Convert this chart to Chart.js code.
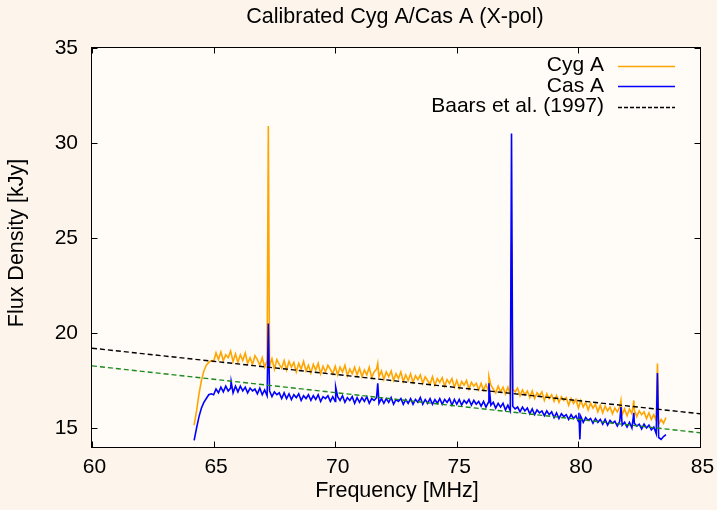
<!DOCTYPE html>
<html>
<head>
<meta charset="utf-8">
<script src="https://cdn.jsdelivr.net/npm/chart.js@4.4.1/dist/chart.umd.min.js"></script>
<style>
  html, body { margin: 0; padding: 0; background: #fdf5eb; }
  canvas { display: block; }
</style>
</head>
<body>
<canvas id="c" width="717" height="510"></canvas>
<script>
// ---------------- DATA ----------------
const chartTitle = "Calibrated Cyg A/Cas A (X-pol)";
const xTitle = "Frequency [MHz]";
const yTitle = "Flux Density [kJy]";
const xTicks = [60, 65, 70, 75, 80, 85];
const yTicks = [15, 20, 25, 30, 35];

const freq = [
  64.2, 64.3, 64.4, 64.5, 64.6, 64.7, 64.8, 64.9,
  65.0, 65.1, 65.2, 65.3, 65.4, 65.5, 65.6, 65.7, 65.8, 65.9,
  66.0, 66.1, 66.2, 66.3, 66.4, 66.5, 66.6, 66.7, 66.8, 66.9,
  67.0, 67.1, 67.2, 67.3, 67.4, 67.5, 67.6, 67.7, 67.8, 67.9,
  68.0, 68.1, 68.2, 68.3, 68.4, 68.5, 68.6, 68.7, 68.8, 68.9,
  69.0, 69.1, 69.2, 69.3, 69.4, 69.5, 69.6, 69.7, 69.8, 69.9,
  70.0, 70.1, 70.2, 70.3, 70.4, 70.5, 70.6, 70.7, 70.8, 70.9,
  71.0, 71.1, 71.2, 71.3, 71.4, 71.5, 71.6, 71.7, 71.8, 71.9,
  72.0, 72.1, 72.2, 72.3, 72.4, 72.5, 72.6, 72.7, 72.8, 72.9,
  73.0, 73.1, 73.2, 73.3, 73.4, 73.5, 73.6, 73.7, 73.8, 73.9,
  74.0, 74.1, 74.2, 74.3, 74.4, 74.5, 74.6, 74.7, 74.8, 74.9,
  75.0, 75.1, 75.2, 75.3, 75.4, 75.5, 75.6, 75.7, 75.8, 75.9,
  76.0, 76.1, 76.2, 76.3, 76.4, 76.5, 76.6, 76.7, 76.8, 76.9,
  77.0, 77.1, 77.2, 77.3, 77.4, 77.5, 77.6, 77.7, 77.8, 77.9,
  78.0, 78.1, 78.2, 78.3, 78.4, 78.5, 78.6, 78.7, 78.8, 78.9,
  79.0, 79.1, 79.2, 79.3, 79.4, 79.5, 79.6, 79.7, 79.8, 79.9,
  80.0, 80.1, 80.2, 80.3, 80.4, 80.5, 80.6, 80.7, 80.8, 80.9,
  81.0, 81.1, 81.2, 81.3, 81.4, 81.5, 81.6, 81.7, 81.8, 81.9,
  82.0, 82.1, 82.2, 82.3, 82.4, 82.5, 82.6, 82.7, 82.8, 82.9,
  83.0, 83.1, 83.2, 83.3, 83.4, 83.5, 83.6
];

const cygA = [
  15.15, 15.9, 16.8, 17.5, 18.0, 18.3, 18.45, 18.55,
  18.5, 18.95, 18.6, 19.0, 18.55, 18.85, 18.7, 19.05, 18.5, 18.9,
  18.45, 18.85, 18.55, 18.95, 18.4, 18.7, 18.35, 18.8, 18.6, 18.3,
  18.7, 18.2, 18.55, 18.25, 18.65, 18.1, 18.6, 18.35, 18.15, 18.55,
  18.05, 18.5, 18.2, 18.45, 17.95, 18.4, 18.1, 18.5, 18.0, 18.3,
  17.9, 18.35, 18.05, 18.4, 17.85, 18.25, 17.95, 18.3, 18.1, 17.85,
  18.25, 17.8, 18.2, 17.95, 18.3, 17.75, 18.1, 17.85, 18.2, 17.8,
  18.15, 17.7, 18.05, 17.8, 18.2, 17.65, 17.95, 18.1, 17.7, 18.0,
  17.55, 17.95, 17.7, 18.0, 17.5, 17.85, 17.6, 17.95, 17.45, 17.8,
  17.5, 17.85, 17.4, 17.75, 17.55, 17.8, 17.35, 17.7, 17.5, 17.3,
  17.7, 17.25, 17.6, 17.4, 17.65, 17.2, 17.55, 17.35, 17.6, 17.15,
  17.5, 17.1, 17.45, 17.25, 17.5, 17.05, 17.4, 17.2, 17.35, 17.0,
  17.35, 17.0, 17.3, 16.95, 17.25, 17.05, 16.85, 17.2, 16.9, 17.15,
  16.8, 17.15, 16.75, 17.05, 16.9, 17.1, 16.7, 17.0, 16.75, 16.95,
  16.6, 16.95, 16.55, 16.85, 16.7, 16.9, 16.45, 16.8, 16.55, 16.75,
  16.4, 16.7, 16.35, 16.65, 16.45, 16.6, 16.2, 16.55, 16.3, 16.5,
  16.05, 16.45, 16.1, 16.35, 15.95, 16.3, 16.05, 16.25, 15.85, 16.2,
  15.8, 16.15, 15.9, 16.1, 15.75, 16.05, 15.85, 16.1, 15.7, 16.0,
  15.65, 16.0, 15.75, 15.95, 15.6, 15.9, 15.7, 15.85, 15.5, 15.8,
  15.45, 15.7, 15.4, 15.2, 15.45, 15.25, 15.55
];

const casA = [
  14.35, 15.0, 15.6, 16.05, 16.35, 16.55, 16.75, 16.8,
  16.75, 17.05, 16.85, 17.15, 16.9, 17.2, 16.95, 17.1, 16.85, 17.2,
  16.9, 17.2, 16.95, 17.15, 16.85, 17.1, 16.95, 17.05, 16.8, 17.1,
  16.75, 17.0, 16.7, 16.95, 16.65, 16.9, 16.75, 16.85, 16.55, 16.85,
  16.55, 16.8, 16.5, 16.75, 16.6, 16.8, 16.45, 16.7, 16.55, 16.75,
  16.45, 16.7, 16.5, 16.75, 16.4, 16.65, 16.55, 16.7, 16.4, 16.65,
  16.4, 16.65, 16.45, 16.7, 16.35, 16.6, 16.45, 16.65, 16.3, 16.6,
  16.35, 16.6, 16.4, 16.65, 16.3, 16.55, 16.45, 16.6, 16.3, 16.55,
  16.3, 16.55, 16.35, 16.6, 16.25, 16.5, 16.4, 16.55, 16.25, 16.5,
  16.3, 16.55, 16.25, 16.5, 16.35, 16.6, 16.25, 16.5, 16.3, 16.55,
  16.25, 16.5, 16.3, 16.55, 16.25, 16.5, 16.35, 16.55, 16.2, 16.5,
  16.25, 16.5, 16.2, 16.45, 16.3, 16.5, 16.2, 16.45, 16.25, 16.4,
  16.15, 16.4, 16.1, 16.35, 16.2, 16.35, 16.05, 16.3, 16.1, 16.3,
  15.95, 16.2, 15.9, 16.15, 16.0, 16.1, 15.85, 16.1, 15.9, 16.05,
  15.75, 16.0, 15.7, 15.95, 15.8, 15.9, 15.65, 15.9, 15.7, 15.85,
  15.55, 15.8, 15.5, 15.75, 15.6, 15.7, 15.45, 15.7, 15.5, 15.65,
  15.35, 15.6, 15.3, 15.55, 15.4, 15.5, 15.25, 15.5, 15.3, 15.45,
  15.2, 15.45, 15.15, 15.4, 15.25, 15.35, 15.1, 15.35, 15.15, 15.3,
  15.05, 15.3, 15.0, 15.25, 15.1, 15.2, 14.95, 15.2, 15.0, 15.15,
  14.9, 15.05, 14.7, 14.5, 14.4, 14.55, 14.65
];

// narrow RFI spikes
const spikeFreq = [65.72, 67.25, 70.02, 71.75, 76.32, 77.25, 80.02, 80.06, 81.75, 82.28, 83.25];
const cygSpike  = [null, 30.9, null, 18.4, 17.7, 24.7, null, null, 16.45, 16.45, 18.4];
const casSpike  = [17.45, 20.5, 17.15, 17.35, 17.35, 30.5, 15.8, 14.4, 16.1, 15.8, 17.9];

// Baars et al. (1997) model and second reference line
const refFreq = [60, 85];
const baarsVals = [19.2, 15.75];
const greenVals = [18.27, 14.75];

// ---------------- STYLE ----------------
const OUTER_BG = '#fdf5eb';
const INNER_BG = '#fffbf6';
const CYG_COLOR = '#ffa500';
const CAS_COLOR = '#0000ff';
const GREEN_COLOR = '#1e8a1e';
const FONT = '"Liberation Sans", Arial, sans-serif';
const FS = 21;
const FS_TITLE = 21.5;

function buildSeries(vals, sF, sV) {
  const pts = freq.map((f, i) => ({ x: f, y: vals[i] }));
  sF.forEach((f, i) => { if (sV[i] !== null) pts.push({ x: f, y: sV[i] }); });
  pts.sort((a, b) => a.x - b.x);
  return pts;
}
const pair = (xs, ys) => xs.map((x, i) => ({ x, y: ys[i] }));

const decor = {
  id: 'decor',
  beforeDraw(chart) {
    const { ctx, chartArea: a, width, height } = chart;
    ctx.save();
    ctx.fillStyle = OUTER_BG;
    ctx.fillRect(0, 0, width, height);
    ctx.fillStyle = INNER_BG;
    ctx.fillRect(a.left, a.top, a.right - a.left, a.bottom - a.top);
    ctx.restore();
  },
  afterDraw(chart) {
    const { ctx, chartArea: a, scales } = chart;
    const xs = scales.x, ys = scales.y;
    ctx.save();
    ctx.strokeStyle = '#000';
    ctx.lineWidth = 1;
    const L = a.left - 0.5, R = a.right + 0.5, T = a.top - 0.5, B = a.bottom + 0.5;
    ctx.strokeRect(L, T, R - L, B - T);
    ctx.beginPath();
    xTicks.forEach(v => {
      const px = Math.round(xs.getPixelForValue(v)) + 0.5;
      ctx.moveTo(px, B); ctx.lineTo(px, B - 6);
      ctx.moveTo(px, T); ctx.lineTo(px, T + 6);
    });
    yTicks.forEach(v => {
      const py = Math.round(ys.getPixelForValue(v)) + 0.5;
      ctx.moveTo(L, py); ctx.lineTo(L + 6, py);
      ctx.moveTo(R, py); ctx.lineTo(R - 6, py);
    });
    ctx.stroke();

    // titles
    ctx.fillStyle = '#000';
    ctx.font = FS_TITLE + 'px ' + FONT;
    ctx.textAlign = 'center';
    ctx.textBaseline = 'middle';
    const cx = (a.left + a.right) / 2;
    ctx.fillText(chartTitle, cx - 1, 17.5);
    ctx.fillText(xTitle, cx + 1, 491);
    ctx.save();
    ctx.translate(17, 243);
    ctx.rotate(-Math.PI / 2);
    ctx.fillText(yTitle, 0, 0);
    ctx.restore();

    // legend (gnuplot style: right aligned text, sample on the right)
    ctx.font = FS + 'px ' + FONT;
    const rows = [
      [chart.data.datasets[3].label, CYG_COLOR, []],
      [chart.data.datasets[2].label, CAS_COLOR, []],
      [chart.data.datasets[0].label, '#000', [4, 2]]
    ];
    ctx.textAlign = 'right';
    rows.forEach((r, i) => {
      const yy = 65.5 + i * 20.6;
      ctx.fillText(r[0], 604, yy);
      ctx.beginPath();
      ctx.setLineDash(r[2]);
      ctx.strokeStyle = r[1];
      ctx.lineWidth = 1.4;
      ctx.moveTo(618, Math.round(yy) + 0.5);
      ctx.lineTo(675, Math.round(yy) + 0.5);
      ctx.stroke();
    });
    ctx.restore();
  }
};

new Chart(document.getElementById('c'), {
  type: 'line',
  data: {
    datasets: [
      { label: 'Baars et al. (1997)', data: pair(refFreq, baarsVals), borderColor: '#000', borderWidth: 1.4, borderDash: [5, 3], pointRadius: 0, order: 0 },
      { label: 'Model', data: pair(refFreq, greenVals), borderColor: GREEN_COLOR, borderWidth: 1.4, borderDash: [5, 3], pointRadius: 0, order: 1 },
      { label: 'Cas A', data: buildSeries(casA, spikeFreq, casSpike), borderColor: CAS_COLOR, borderWidth: 1.6, pointRadius: 0, order: 2 },
      { label: 'Cyg A', data: buildSeries(cygA, spikeFreq, cygSpike), borderColor: CYG_COLOR, borderWidth: 1.6, pointRadius: 0, order: 3 }
    ]
  },
  options: {
    responsive: false,
    animation: false,
    devicePixelRatio: 1,
    layout: { padding: { top: 48, right: 17, bottom: 0, left: 0 } },
    plugins: { legend: { display: false }, title: { display: false }, tooltip: { enabled: false } },
    elements: { line: { tension: 0, fill: false } },
    scales: {
      x: {
        type: 'linear', min: 60, max: 85,
        afterBuildTicks: s => { s.ticks = xTicks.map(v => ({ value: v })); },
        afterFit: s => { s.height = 63; s.paddingLeft = 0; s.paddingRight = 0; },
        grid: { display: false, drawTicks: false },
        border: { display: false },
        ticks: { color: '#000', font: { family: FONT, size: FS }, padding: 8, labelOffset: 2.5, maxRotation: 0 }
      },
      y: {
        type: 'linear', min: 14, max: 35,
        afterBuildTicks: s => { s.ticks = yTicks.map(v => ({ value: v })); },
        afterFit: s => { s.width = 92; s.paddingTop = 0; s.paddingBottom = 0; },
        grid: { display: false, drawTicks: false },
        border: { display: false },
        ticks: { color: '#000', font: { family: FONT, size: FS }, padding: 14 }
      }
    }
  },
  plugins: [decor]
});
</script>
</body>
</html>
